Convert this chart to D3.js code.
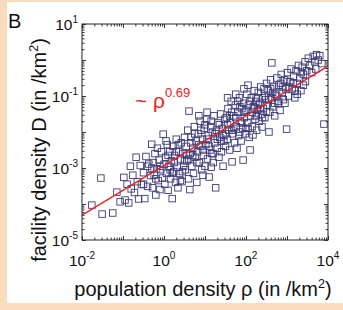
<!DOCTYPE html>
<html><head><meta charset="utf-8">
<script src="https://cdn.jsdelivr.net/npm/d3@7"></script>
<style>html,body{margin:0;padding:0;background:#f8dcbd;}svg{display:block;font-family:"Liberation Sans",Arial,sans-serif;}</style>
</head><body><svg id="c" width="343" height="310"></svg>
<script>
// data: log10 population density and log10 facility density
const logRho = [-1.76,-1.51,-1.25,-1.54,-1.15,-1.07,
-0.98,-0.95,-0.90,-0.86,-0.82,-0.80,-0.76,-0.72,-0.68,-0.65,-0.62,-0.58,-0.55,-0.50,-0.47,-0.44,-0.40,-0.37,-0.33,-0.30,
-0.28,-0.26,-0.24,-0.22,-0.20,-0.18,-0.16,-0.14,-0.12,-0.10,-0.08,-0.06,-0.04,-0.02,0.00,0.02,0.04,0.06,0.08,0.10,0.12,0.14,0.16,0.18,0.20,0.22,0.24,0.26,0.28,0.30,0.32,0.34,0.36,0.38,0.40,0.42,0.44,0.46,0.48,0.50,
0.52,0.54,0.56,0.58,0.60,0.61,0.63,0.64,0.66,0.68,0.70,0.72,0.74,0.76,0.78,0.80,0.82,0.84,0.86,0.88,0.90,0.92,0.94,0.96,0.98,1.00,1.02,1.04,1.06,1.08,1.10,1.12,1.14,1.16,1.18,1.20,1.22,1.24,1.26,1.28,1.30,1.32,1.34,1.36,1.38,1.40,1.42,1.44,1.46,1.48,1.50,1.05,0.95,1.15,0.85,
1.52,1.54,1.56,1.58,1.60,1.62,1.64,1.66,1.68,1.70,1.72,1.74,1.76,1.78,1.80,1.82,1.84,1.86,1.88,1.90,1.92,1.93,1.94,1.96,1.98,2.00,2.02,2.04,2.06,2.08,2.10,2.11,2.13,2.15,2.17,2.18,2.20,2.22,2.24,2.26,2.28,2.30,2.32,2.34,2.36,2.38,2.39,2.40,2.42,2.44,2.46,2.48,2.50,1.55,1.75,1.95,2.05,1.65,1.85,2.25,
2.52,2.54,2.56,2.58,2.60,2.62,2.63,2.65,2.68,2.70,2.72,2.75,2.78,2.80,2.83,2.86,2.88,2.91,2.94,2.97,2.99,3.01,3.04,3.07,3.10,3.13,3.16,3.19,3.22,3.25,3.28,3.31,3.34,3.37,3.40,3.44,3.48,3.52,3.56,3.60,3.64,3.68,3.72,3.76,3.80,3.85,3.90,3.70,
0.05,0.15,0.25,0.35,0.45,0.55,0.65,0.75,0.85,0.95,1.05,1.15,1.25,1.35,1.45,1.55,1.65,1.75,1.85,1.95,2.05,2.15,2.25,2.35,2.45,2.55,2.65,2.75,2.85,2.95,3.05,3.15,3.25,3.35,3.45,
0.10,0.30,0.50,0.70,0.90,1.10,1.30,1.50,1.70,1.90,2.10,2.30,2.50,2.70,2.90,-0.10,-0.20,-0.30,-0.40,-0.50,0.20,0.40,0.60,0.80,1.00,1.20,1.40,1.60,1.80,2.00,2.20,2.40,2.60,2.80,3.00,3.20,3.40];
const logD = [-4.03,-4.28,-4.25,-3.28,-3.67,-3.94,
-3.26,-3.89,-3.45,-3.97,-2.95,-3.58,-3.20,-3.68,-2.70,-3.38,-3.86,-2.93,-3.46,-3.13,-3.85,-2.68,-3.51,-2.89,-3.21,-2.34,
-3.55,-2.85,-3.20,-2.60,-3.75,-3.02,-2.45,-3.35,-2.78,-3.60,-3.05,-2.55,-3.28,-2.06,-2.90,-3.45,-2.70,-3.15,-2.35,-3.62,-2.95,-2.55,-3.30,-2.80,-3.85,-2.40,-3.10,-2.65,-3.40,-2.20,-2.98,-3.55,-2.55,-3.15,-2.75,-2.30,-3.38,-2.60,-2.95,-2.15,
-3.05,-2.40,-2.80,-1.95,-3.30,-1.42,-3.60,-2.60,-2.15,-2.95,-2.45,-3.15,-1.85,-2.70,-2.25,-3.40,-2.55,-2.05,-2.85,-1.70,-2.40,-3.05,-2.20,-2.65,-1.90,-2.95,-2.35,-1.65,-2.75,-2.10,-3.25,-2.50,-1.85,-2.60,-2.00,-2.85,-1.55,-2.30,-3.55,-1.95,-2.45,-1.75,-2.70,-2.15,-1.50,-2.55,-1.90,-2.95,-2.25,-1.65,-2.40,-1.45,-3.20,-2.98,-1.55,
-1.60,-2.20,-1.35,-1.95,-2.50,-1.75,-1.15,-2.83,-2.05,-1.55,-2.30,-1.25,-1.85,-2.45,-1.45,-2.10,-1.05,-1.70,-2.25,-1.35,-1.90,-2.78,-1.20,-1.60,-2.05,-1.40,-0.95,-1.75,-1.25,-2.15,-2.50,-1.55,-1.05,-1.85,-2.08,-1.30,-0.85,-1.65,-1.15,-1.95,-1.40,-0.90,-1.70,-1.20,-0.75,-1.50,-1.86,-1.05,-1.35,-0.80,-1.60,-1.10,-0.65,-1.05,-0.95,-0.80,-0.70,-1.95,-2.00,-1.55,
-1.25,-0.85,-2.00,-1.45,-0.55,-1.05,-0.08,-1.30,-0.75,-1.55,-0.95,-0.50,-1.20,-0.70,-1.40,-0.40,-0.90,-1.10,-0.55,-0.80,-1.92,-0.35,-1.00,-0.60,-0.25,-0.80,-0.45,-1.05,-0.30,-0.65,-0.15,-0.50,-0.85,-0.20,-0.40,-0.05,-0.30,0.05,-0.15,-0.35,0.10,-0.05,0.15,0.00,0.12,-0.10,-1.78,-0.25,
-2.25,-3.05,-2.85,-2.35,-3.10,-2.65,-2.30,-2.05,-2.35,-2.50,-2.20,-1.70,-2.05,-1.80,-2.10,-1.80,-1.45,-1.60,-1.30,-1.45,-1.90,-1.45,-1.05,-1.35,-1.00,-1.10,-0.90,-1.00,-0.65,-1.20,-0.75,-0.65,-0.95,-0.35,-0.60,
-2.65,-2.55,-2.80,-2.65,-1.95,-2.40,-2.20,-2.05,-1.90,-1.75,-1.15,-1.25,-1.45,-1.20,-0.75,-2.95,-3.30,-3.00,-2.95,-3.45,-3.15,-3.35,-2.75,-2.85,-1.80,-2.60,-2.25,-1.55,-1.15,-1.90,-1.35,-1.60,-0.80,-1.15,-0.60,-0.85,-0.70];
// fit: D ~ rho^0.69
const fitExponent = 0.69;
const fitLogIntercept = -2.93;
const fitRange = [1e-2, 1e4];
const xTickExps = [-2, 0, 2, 4];
const yTickExps = [1, -1, -3, -5];

const svg = d3.select("#c");
svg.append("rect").attr("x",0).attr("y",0).attr("width",343).attr("height",310).attr("fill","#f8dcbd");
svg.append("rect").attr("x",7).attr("y",2).attr("width",336).attr("height",301).attr("fill","#fff");

const x = d3.scaleLog().domain([1e-2,1e4]).range([82,328]);
const y = d3.scaleLog().domain([1e-5,1e1]).range([240,24]);
const [x0,x1] = x.range(), [y0,y1] = y.range();

function majors(a,b){const r=[];for(let e=a;e<=b;e++)r.push(Math.pow(10,e));return r;}
function minors(a,b){const r=[];for(let e=a;e<b;e++)for(let k=2;k<=9;k++)r.push(k*Math.pow(10,e));return r;}
const xMaj = majors(-2,4), xMin = minors(-2,4), yMaj = majors(-5,1), yMin = minors(-5,1);

const axisStyle = g => { g.select(".domain").remove(); g.selectAll("line").attr("stroke","#222").attr("stroke-width",0.9); g.selectAll("text").remove(); };
const H = y0 - y1, Wd = x1 - x0;
[[xMaj,4],[xMin,2.5]].forEach(([vals,len])=>{
  svg.append("g").attr("transform",`translate(0,${y0})`).call(d3.axisBottom(x).tickValues(vals).tickSize(-len).tickFormat("")).call(axisStyle);
  svg.append("g").attr("transform",`translate(0,${y1})`).call(d3.axisTop(x).tickValues(vals).tickSize(-len).tickFormat("")).call(axisStyle);
});
[[yMaj,4],[yMin,2.5]].forEach(([vals,len])=>{
  svg.append("g").attr("transform",`translate(${x0},0)`).call(d3.axisLeft(y).tickValues(vals).tickSize(-len).tickFormat("")).call(axisStyle);
  svg.append("g").attr("transform",`translate(${x1},0)`).call(d3.axisRight(y).tickValues(vals).tickSize(-len).tickFormat("")).call(axisStyle);
});

// points
const pts = logRho.map((r,i)=>({rho:Math.pow(10,r), D:Math.pow(10,logD[i])}));
const S = 6.5;
svg.append("g").selectAll("rect").data(pts).join("rect")
  .attr("x",d=>x(d.rho)-S/2).attr("y",d=>y(d.D)-S/2).attr("width",S).attr("height",S)
  .attr("fill","none").attr("stroke","#3d3b78").attr("stroke-width",0.9);

// fit line
const fit = fitRange.map(r=>({rho:r, D:Math.pow(10,fitLogIntercept)*Math.pow(r,fitExponent)}));
svg.append("path").datum(fit).attr("d",d3.line().x(d=>x(d.rho)).y(d=>y(d.D)))
  .attr("stroke","#ee2020").attr("stroke-width",1.3).attr("fill","none");

// frame
svg.append("rect").attr("x",x0).attr("y",y1).attr("width",Wd).attr("height",H)
  .attr("fill","none").attr("stroke","#222").attr("stroke-width",1);

// tick labels
const fs = 15.5;
xTickExps.forEach(e=>{
  const t = svg.append("text").attr("x",x(Math.pow(10,e))).attr("y",266).attr("text-anchor","middle").attr("font-size",fs).attr("fill","#111");
  t.append("tspan").text("10");
  t.append("tspan").attr("font-size",10).attr("dy",-7).text(e);
});
yTickExps.forEach(e=>{
  const t = svg.append("text").attr("x",78).attr("y",y(Math.pow(10,e))+6).attr("text-anchor","end").attr("font-size",fs).attr("fill","#111");
  t.append("tspan").text("10");
  t.append("tspan").attr("font-size",10).attr("dy",-7).text(e);
});

// axis titles
const xt = svg.append("text").attr("x",203).attr("y",296).attr("text-anchor","middle").attr("font-size",20).attr("fill","#111");
xt.append("tspan").text("population density ρ (in /km");
xt.append("tspan").attr("font-size",12.5).attr("dy",-8).text("2");
xt.append("tspan").attr("dy",8).text(")");
const yt = svg.append("text").attr("transform","translate(46,150) rotate(-90)").attr("text-anchor","middle").attr("font-size",20).attr("fill","#111");
yt.append("tspan").text("facility density D (in /km");
yt.append("tspan").attr("font-size",12.5).attr("dy",-8).text("2");
yt.append("tspan").attr("dy",8).text(")");

// panel letter
svg.append("text").attr("x",8).attr("y",28).attr("font-size",20).attr("fill","#111").text("B");

// annotation
svg.append("text").attr("x",135).attr("y",108).attr("font-size",21).attr("fill","#ee2020").text("~ ρ");
svg.append("text").attr("x",165).attr("y",97).attr("font-size",13).attr("fill","#ee2020").text(fitExponent.toFixed(2));
</script></body></html>
